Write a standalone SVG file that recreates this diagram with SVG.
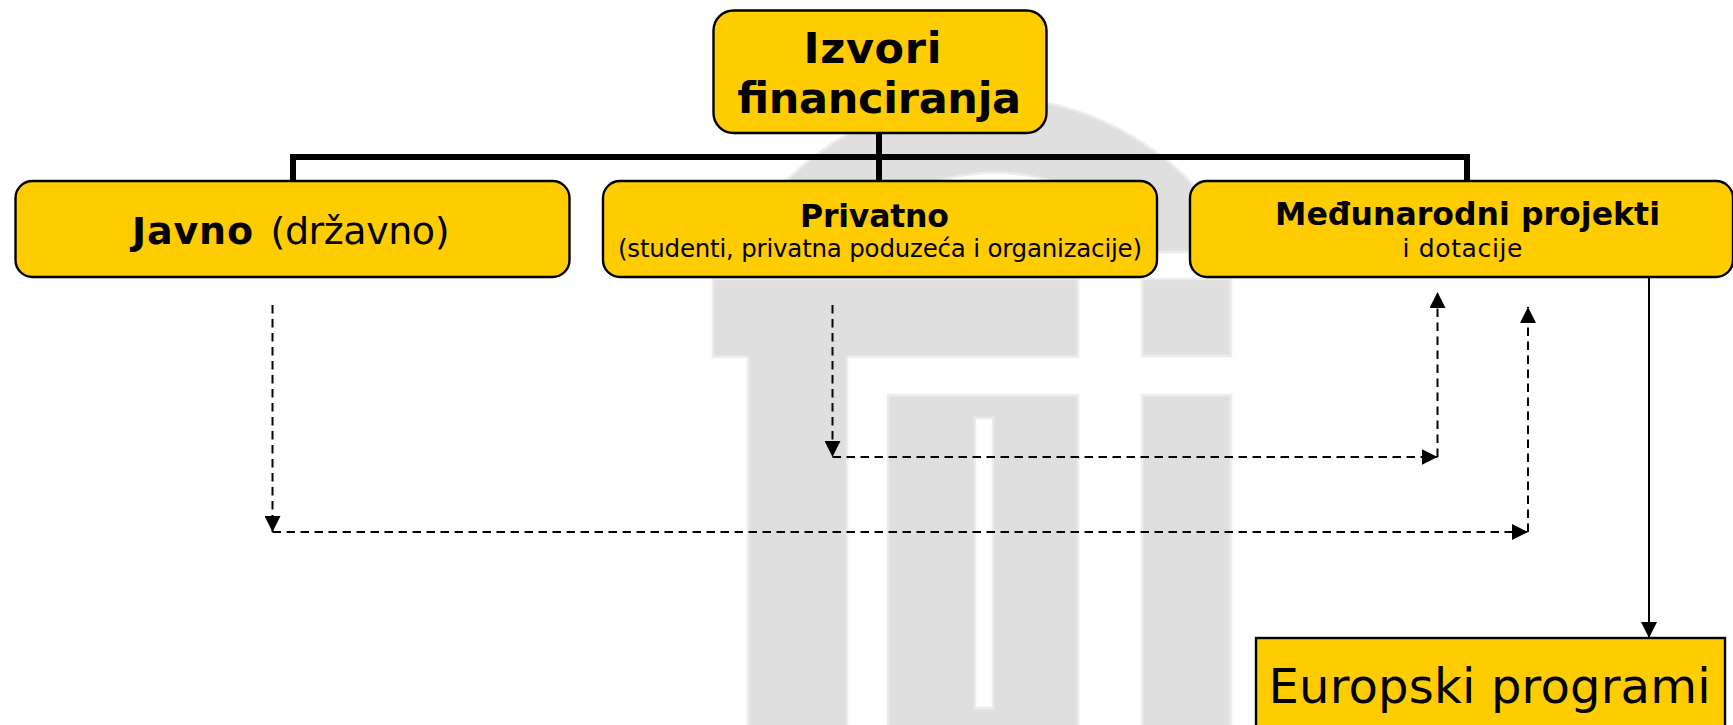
<svg xmlns="http://www.w3.org/2000/svg" width="1733" height="725" viewBox="0 0 1733 725">
<style>
.wm{fill:#dfdfdf;stroke:#ecece8;stroke-width:2.5}
.box{fill:#ffcc00;stroke:#000;stroke-width:2.4}
text{font-family:"DejaVu Sans","Liberation Sans",sans-serif;fill:#000;text-anchor:middle}
.b{font-weight:bold}
.trunk{fill:none;stroke:#000;stroke-width:6}
.dash{fill:none;stroke:#000;stroke-width:2;stroke-dasharray:8.5 5.5;marker-end:url(#arrow)}
.solid{fill:none;stroke:#000;stroke-width:2;marker-end:url(#arrow)}
</style>
<defs>
<marker id="arrow" markerUnits="userSpaceOnUse" markerWidth="16" markerHeight="16" viewBox="0 0 16 16" refX="16" refY="8" orient="auto"><path d="M0 0L16 8L0 16Z" fill="#000"/></marker>
</defs>
<rect width="1733" height="725" fill="#fff"/>
<g id="watermark">
<path class="wm" d="M735 252A284 284 0 0 1 1241 252L1153 252A197 197 0 0 0 837 252Z"/>
<path class="wm" d="M713 279H1078V357H847V727H748V357H713Z"/>
<path class="wm" fill-rule="evenodd" d="M888 395H1078V727H888ZM975 418V708H993V418Z"/>
<rect class="wm" x="1142" y="279" width="89" height="77"/>
<rect class="wm" x="1142" y="395" width="89" height="332"/>
</g>
<g id="connectors">
<path class="trunk" d="M293 181V157H1467V181M879 133V181"/>
<path class="dash" d="M272.500 305V532"/>
<path class="dash" d="M272.500 532H1528"/>
<path class="dash" d="M1528 532V307"/>
<path class="dash" d="M832.500 305V457"/>
<path class="dash" d="M832.500 457H1437.500"/>
<path class="dash" d="M1437.500 457V292"/>
<path class="solid" d="M1649 275V638"/>
</g>
<g id="node-izvori">
<rect class="box" x="713.500" y="10.500" width="333" height="122.500" rx="20"/>
<text class="b" x="872.500" y="63" font-size="43" textLength="138">Izvori</text>
<text class="b" x="879" y="113" font-size="43" textLength="284">financiranja</text>
</g>
<g id="node-javno">
<rect class="box" x="15.500" y="181" width="554" height="96" rx="17"/>
<text class="b" x="192.500" y="244" font-size="38" textLength="121">Javno</text>
<text x="360" y="244" font-size="38" textLength="179">(državno)</text>
</g>
<g id="node-privatno">
<rect class="box" x="603" y="181" width="554" height="96" rx="17"/>
<text class="b" x="874.500" y="227" font-size="31.500" textLength="149">Privatno</text>
<text x="880" y="257" font-size="24.500" textLength="524">(studenti, privatna poduzeća i organizacije)</text>
</g>
<g id="node-medunarodni">
<rect class="box" x="1190" y="181" width="543" height="96" rx="17"/>
<text class="b" x="1467.500" y="225" font-size="31.500" textLength="385">Međunarodni projekti</text>
<text x="1462.500" y="257" font-size="25" textLength="120">i dotacije</text>
</g>
<g id="node-europski">
<rect class="box" x="1256" y="638" width="469" height="100"/>
<text x="1489.500" y="703" font-size="48" textLength="442">Europski programi</text>
</g>
</svg>
